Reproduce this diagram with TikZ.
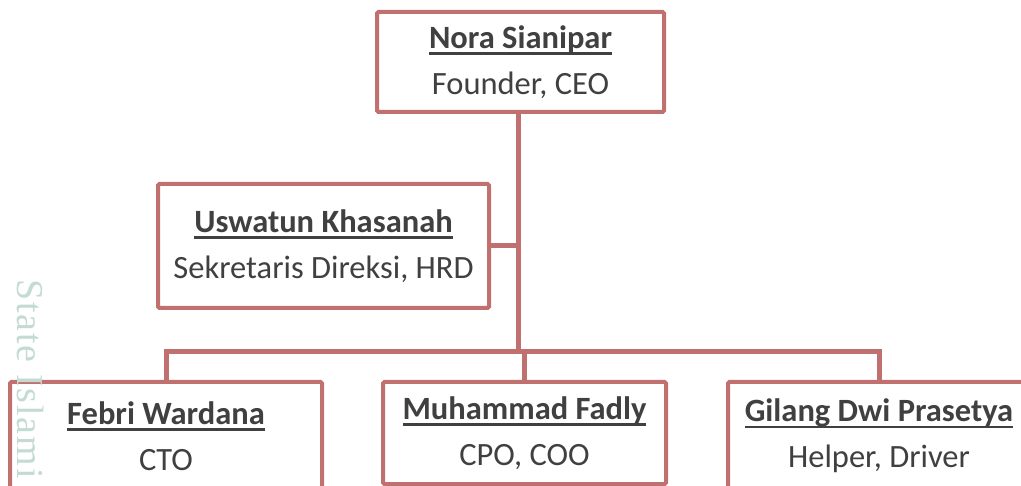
\documentclass[tikz,border=0pt]{standalone}
\usepackage{fontspec}
\setmainfont{Carlito}
\newfontfamily\wmfont[LetterSpace=5]{Liberation Serif}
\definecolor{boxred}{HTML}{C0706F}
\definecolor{txtgray}{HTML}{404040}
\definecolor{wmgreen}{HTML}{C3DBD2}
\newcommand\nameul[1]{\setbox0\hbox{\bfseries #1}\rlap{\rule[-6.5pt]{\wd0}{2.4pt}}\box0}
\begin{document}
\begin{tikzpicture}[x=1pt,y=-1pt,
  person/.style={draw=boxred, line width=4pt, fill=white, rounded corners=1.5pt,
    inner sep=0pt, align=center, text=txtgray, font=\fontsize{32.5}{46}\selectfont},
  link/.style={draw=boxred, line width=5pt},
  wmark/.style={text=wmgreen, font=\wmfont\fontsize{38}{38}\selectfont}]
\useasboundingbox (0,0) rectangle (1021,486);
\clip (0,0) rectangle (1021,486);
\fill[white] (0,0) rectangle (1021,486);
% junctions
\coordinate (j1) at (518,246);
\coordinate (j2) at (518,352);
\coordinate (j3) at (525,352);
% boxes
\node[person, minimum width=287pt, minimum height=100pt] (ceo) at (520.5,62)
  {\nameul{Nora Sianipar}\\Founder, CEO};
\node[person, minimum width=331pt, minimum height=124pt] (sec) at (323.5,246)
  {\nameul{Uswatun Khasanah}\\Sekretaris Direksi, HRD};
\node[person, minimum width=312pt, minimum height=108pt] (cto) at (166,436)
  {\nameul{Febri Wardana}\\CTO};
\node[person, minimum width=283pt, minimum height=102pt] (cpo) at (524.5,433)
  {\nameul{Muhammad Fadly}\\CPO, COO};
\node[person, minimum width=302pt, minimum height=108pt] (drv) at (879,436)
  {\nameul{Gilang Dwi Prasetya}\\Helper, Driver};
% connectors
\draw[link] (ceo.south -| j1) -- (j2);
\draw[link] (sec.east) -- (j1);
\draw[link] (cto.north) |- (j2);
\draw[link] (drv.north) |- (j2);
\draw[link] (cpo.north) -- (cpo.north |- j3);
% watermark text
\node[wmark, rotate=-90, anchor=base west, inner sep=0pt] (wm) at (17,279) {State Islami};
\end{tikzpicture}
\end{document}
